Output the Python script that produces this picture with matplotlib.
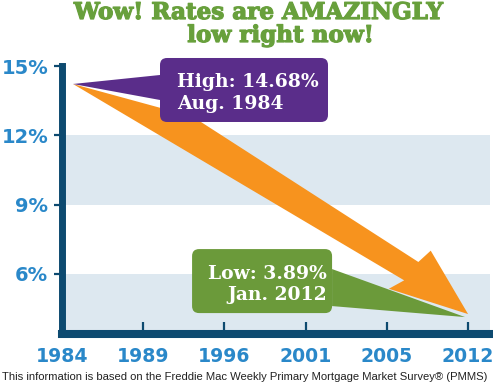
import matplotlib
matplotlib.use('Agg')
import matplotlib.pyplot as plt
from matplotlib.patches import Polygon, FancyBboxPatch
from matplotlib.transforms import IdentityTransform
import matplotlib.patheffects as pe
import numpy as np

years = ['1984', '1989', '1996', '2001', '2005', '2012']
rate_ticks = [6, 9, 12, 15]
rate_labels = ['6%', '9%', '12%', '15%']
high_rate = 14.68
low_rate = 3.89
high_label = 'High: 14.68%\nAug. 1984'
low_label = 'Low: 3.89%\nJan. 2012'
bands = [(9, 12), (3.4, 6)]

navy = '#0d4a70'
blue = '#2a88c9'
orange = '#f7931e'
purple = '#5a2d8a'
green = '#6b9a3a'
title_green = '#68a03c'
band_c = '#dde8f0'

W, H = 493, 384
fig = plt.figure(figsize=(W / 100, H / 100), dpi=100)
ax = fig.add_axes([62 / W, 50 / H, 428 / W, 268 / H])
ax.set_xlim(0, 5.27)
ax.set_ylim(3.4, 15)

for lo, hi in bands:
    ax.axhspan(lo, hi, color=band_c, lw=0, zorder=0)

for s in ['top', 'right']:
    ax.spines[s].set_visible(False)
ax.spines['left'].set_linewidth(5.0)
ax.spines['bottom'].set_linewidth(5.8)
for s in ['left', 'bottom']:
    ax.spines[s].set_color(navy)
    ax.spines[s].set_capstyle('projecting')
    ax.spines[s].set_zorder(5)

ax.set_xticks(range(len(years)))
ax.set_xticklabels(years)
ax.set_yticks(rate_ticks)
ax.set_yticklabels(rate_labels)
ax.tick_params(axis='x', direction='in', length=9, width=1.6, color=navy, pad=9,
               labelsize=13.6, labelcolor=blue)
ax.tick_params(axis='y', direction='out', length=6, width=1.6, color=navy, pad=4,
               labelsize=14, labelcolor=blue)
for lab in ax.get_xticklabels() + ax.get_yticklabels():
    lab.set_fontweight('bold')

# anchors in display pixels (y up), offsets given image-style (y down)
hi = ax.transData.transform((0, high_rate))
lo = ax.transData.transform((len(years) - 1, low_rate))


def off(a, dx, dy):
    return np.array([a[0] + dx, a[1] - dy])


ident = IdentityTransform()

# big orange arrow, built along the line from start to tip
start = off(hi, 11, 10.6)
tip = off(lo, 0, -8.6)
u = (tip - start) / np.linalg.norm(tip - start)
n = np.array([-u[1], u[0]])
L = np.linalg.norm(tip - start)
shape = [(0, 0), (120, 32), (388, 20), (393, 36), (L, 0), (376, -18), (385, -3)]
pts = [start + s * u + t * n for s, t in shape]
ax.add_patch(Polygon(pts, closed=True, color=orange, lw=0, transform=ident,
                     zorder=3, clip_on=False))

# green callout (under the arrow)
gpts = [off(lo, -136, -53.6), off(lo, -3, -5.6), off(lo, -136, -16.6)]
ax.add_patch(Polygon(gpts, closed=True, color=green, lw=0, transform=ident,
                     zorder=2, clip_on=False))
g0 = off(lo, -276, -9.6)
ax.add_patch(FancyBboxPatch(g0, 140, 64, boxstyle='round,pad=0,rounding_size=7',
                            color=green, lw=0, transform=ident, zorder=2, clip_on=False))
ax.annotate(low_label, xy=(len(years) - 1, low_rate), xytext=(-141, 38),
            textcoords='offset pixels', ha='right', va='center', color='white',
            fontsize=13.5, fontweight='bold', family='DejaVu Serif',
            linespacing=1.25, zorder=6, annotation_clip=False)

# purple callout (over the arrow)
ppts = [start, off(hi, 98, 1.6), off(hi, 98, 26.6)]
ax.add_patch(Polygon(ppts, closed=True, color=purple, lw=0, transform=ident,
                     zorder=4, clip_on=False))
p0 = off(hi, 98, 48.6)
ax.add_patch(FancyBboxPatch(p0, 168, 64, boxstyle='round,pad=0,rounding_size=7',
                            color=purple, lw=0, transform=ident, zorder=4, clip_on=False))
ax.annotate(high_label, xy=(0, high_rate), xytext=(115, -19.6),
            textcoords='offset pixels', ha='left', va='center', color='white',
            fontsize=13.5, fontweight='bold', family='DejaVu Serif',
            linespacing=1.25, zorder=6, annotation_clip=False)

thick = [pe.withStroke(linewidth=0.9, foreground=title_green)]
fig.text(258 / W, 1 - 19 / H, 'Wow! Rates are AMAZINGLY', ha='center', va='baseline',
         color=title_green, fontsize=16.6, fontweight='bold', family='DejaVu Serif',
         path_effects=thick)
fig.text(280 / W, 1 - 42 / H, 'low right now!', ha='center', va='baseline',
         color=title_green, fontsize=16.6, fontweight='bold', family='DejaVu Serif',
         path_effects=thick)
fig.text(2 / W, 1 - 380 / H,
         'This information is based on the Freddie Mac Weekly Primary Mortgage Market Survey\u00ae (PMMS)',
         ha='left', va='baseline', color='#222222', fontsize=8.15, family='Liberation Sans')

fig.savefig('out.png', dpi=100)
